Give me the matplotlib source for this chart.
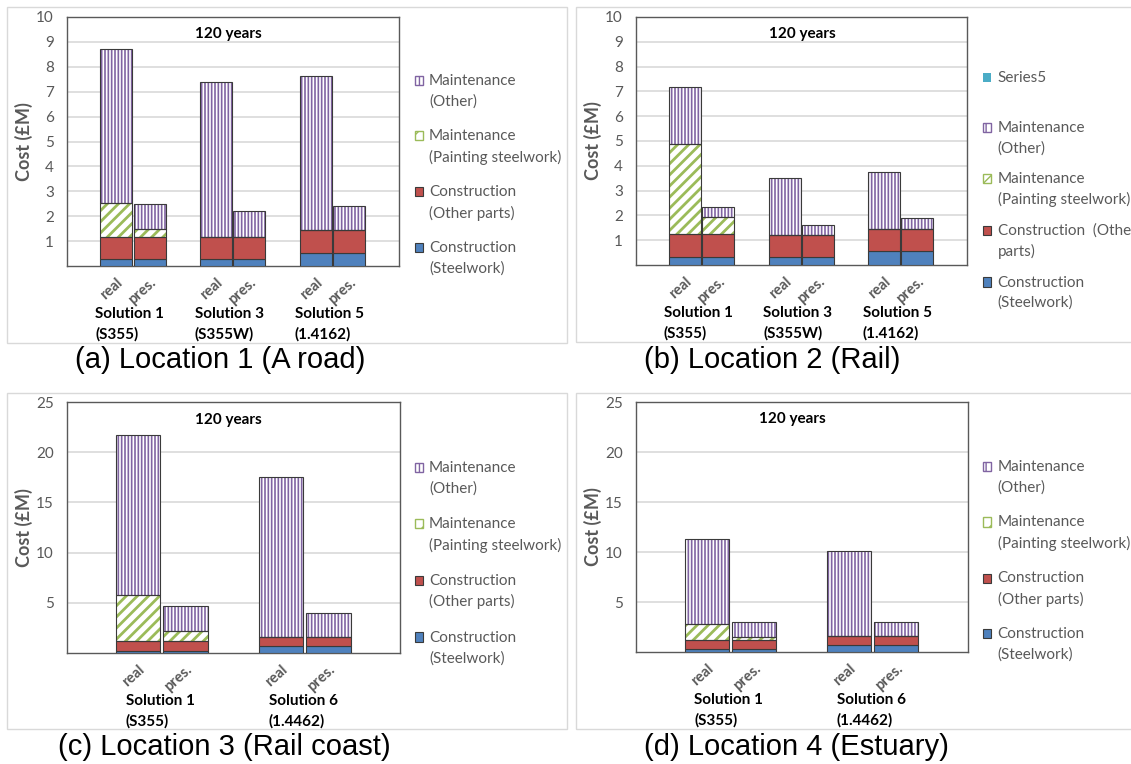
import matplotlib
matplotlib.use('Agg')
import matplotlib.pyplot as plt
from matplotlib.patches import Patch, Rectangle
from matplotlib.legend_handler import HandlerPatch

plt.rcParams['font.family'] = ['Lato', 'DejaVu Sans']

W, H = 1131, 764

bar_labels = ['real', 'pres.']
groups_3 = ['Solution 1\n(S355)', 'Solution 3\n(S355W)', 'Solution 5\n(1.4162)']
groups_2 = ['Solution 1\n(S355)', 'Solution 6\n(1.4462)']
series = ['Construction\n(Steelwork)', 'Construction\n(Other parts)',
          'Maintenance\n(Painting steelwork)', 'Maintenance\n(Other)']
series_b = ['Construction\n(Steelwork)', 'Construction  (Other\nparts)',
            'Maintenance\n(Painting steelwork)', 'Maintenance\n(Other)']
captions = ['(a) Location 1 (A road)', '(b) Location 2 (Rail)',
            '(c) Location 3 (Rail coast)', '(d) Location 4 (Estuary)']

# segment heights (GBP M), bottom to top; bars = real, pres. for each solution
a_steel = [0.30, 0.30, 0.30, 0.30, 0.54, 0.54]
a_other = [0.88, 0.88, 0.88, 0.88, 0.90, 0.90]
a_paint = [1.37, 0.31, 0.0, 0.0, 0.0, 0.0]
a_maint = [6.16, 1.01, 6.22, 1.01, 6.18, 0.98]

b_steel = [0.31, 0.31, 0.31, 0.31, 0.55, 0.55]
b_other = [0.92, 0.92, 0.88, 0.88, 0.90, 0.90]
b_paint = [3.64, 0.69, 0.0, 0.0, 0.0, 0.0]
b_maint = [2.31, 0.40, 2.33, 0.41, 2.31, 0.43]

c_steel = [0.23, 0.23, 0.67, 0.67]
c_other = [1.00, 1.00, 0.93, 0.93]
c_paint = [4.53, 0.97, 0.0, 0.0]
c_maint = [15.94, 2.53, 15.90, 2.43]

d_steel = [0.33, 0.33, 0.67, 0.67]
d_other = [0.84, 0.84, 0.90, 0.90]
d_paint = [1.67, 0.33, 0.0, 0.0]
d_maint = [8.46, 1.47, 8.53, 1.40]

BLUE = '#4F81BD'
RED = '#C0504D'
GREEN = '#9BBB59'
PURPLE = '#8064A2'
CYAN = '#4BACC6'
GRAY = '#595959'
EDGE = '#3a3a3a'


class FirstLineHandler(HandlerPatch):
    # put the legend square next to the first line of a two-line label
    def __init__(self, shift=0.0, **kw):
        super().__init__(**kw)
        self.shift = shift

    def create_artists(self, legend, orig_handle, xdescent, ydescent,
                       width, height, fontsize, trans):
        p = Rectangle((-xdescent, -ydescent + self.shift * fontsize), width, height)
        self.update_prop(p, orig_handle, legend)
        p.set_transform(trans)
        return [p]


def px_axes(fig, l, t, r, b):
    return fig.add_axes([l / W, 1 - b / H, (r - l) / W, (b - t) / H])


def hatched(ax, x, h, bottom, width, color, hatch, hlw):
    with plt.rc_context({'hatch.linewidth': hlw}):
        bars = ax.bar(x, h, width, bottom=bottom, color='white', edgecolor=color,
                      linewidth=0, hatch=hatch, zorder=2)
    ax.bar(x, h, width, bottom=bottom, fill=False, edgecolor=EDGE, linewidth=0.8, zorder=3)
    return bars


def panel(ax, steel, other, paint, maint, groups, ymax, ystep, width, title_x, gshift):
    n = len(groups)
    pos = []
    for g in range(n):
        pos += [3 * g + 1, 3 * g + 2]
    b1 = steel
    b2 = [s + o for s, o in zip(steel, other)]
    b3 = [v + p for v, p in zip(b2, paint)]
    ax.bar(pos, steel, width, color=BLUE, edgecolor=EDGE, linewidth=0.8, zorder=3)
    ax.bar(pos, other, width, bottom=b1, color=RED, edgecolor=EDGE, linewidth=0.8, zorder=3)
    hatched(ax, pos, paint, b2, width, GREEN, '///', 2.0)
    hatched(ax, pos, maint, b3, width, PURPLE, '|||||', 1.2)

    ax.set_xlim(-0.5, 3 * n + 0.5)
    ax.set_ylim(0, ymax)
    ax.set_yticks(list(range(ystep, ymax + 1, ystep)))
    ax.grid(axis='y', color='#d9d9d9', linewidth=1.2, zorder=0)
    ax.set_axisbelow(True)
    ax.tick_params(axis='y', length=0, labelsize=11, labelcolor=GRAY, pad=9)
    ax.set_xticks(pos, bar_labels * n, rotation=42, ha='right', rotation_mode='anchor',
                  fontsize=10.5, color=GRAY, fontweight='bold')
    ax.tick_params(axis='x', length=0, pad=7)
    for s in ax.spines.values():
        s.set_color(GRAY)
        s.set_linewidth(1.0)
    ax.set_ylabel('Cost (£M)', fontsize=13, fontweight='bold', color=GRAY)
    ax.yaxis.set_label_coords(-0.10, 0.5)
    ax.text(title_x, 0.93, '120 years', transform=ax.transAxes, ha='center', va='center',
            fontsize=11, fontweight='bold')
    for g, lab in enumerate(groups):
        ax.text(3 * g + gshift, -0.165, lab, transform=ax.get_xaxis_transform(), ha='center',
                va='top', multialignment='left', fontsize=11, fontweight='bold',
                linespacing=1.5)


def legend(fig, labels, x, y, spacing, extra=False):
    handles = [Patch(facecolor='white', edgecolor=PURPLE, hatch='|||'),
               Patch(facecolor='white', edgecolor=GREEN, hatch='//'),
               Patch(facecolor=RED, edgecolor=EDGE, linewidth=0.8),
               Patch(facecolor=BLUE, edgecolor=EDGE, linewidth=0.8)]
    texts = labels[::-1]
    if extra:
        handles = [Patch(facecolor=CYAN, edgecolor='none')] + handles
        texts = ['Series5\n '] + texts
    leg = fig.legend(handles, texts, loc='upper left', bbox_to_anchor=(x / W, 1 - y / H),
                     frameon=False, fontsize=11, labelcolor=GRAY, handlelength=0.55,
                     handleheight=0.55, handletextpad=0.4, borderpad=0, borderaxespad=0,
                     labelspacing=spacing, handler_map={Patch: FirstLineHandler(0.72)})
    for t in leg.get_texts():
        t.set_linespacing(1.55)
    return leg


fig = plt.figure(figsize=(W / 100, H / 100), dpi=100)

# light frames around the four panels
for (l, t, r, b) in [(7, 7, 567, 343), (576, 7, 1140, 342), (7, 393, 567, 729), (576, 393, 1140, 729)]:
    fig.add_artist(Rectangle((l / W, 1 - b / H), (r - l) / W, (b - t) / H, transform=fig.transFigure,
                             fill=False, edgecolor='#d9d9d9', linewidth=1.0))

ax_a = px_axes(fig, 66.5, 17, 399, 266)
panel(ax_a, a_steel, a_other, a_paint, a_maint, groups_3, 10, 1, 0.96, 0.486, 1.4)
legend(fig, series, 414.5, 74, 1.33)

ax_b = px_axes(fig, 635.5, 17, 967, 265)
panel(ax_b, b_steel, b_other, b_paint, b_maint, groups_3, 10, 1, 0.96, 0.502, 1.4)
legend(fig, series_b, 983, 71, 1.05, extra=True)

ax_c = px_axes(fig, 66.5, 402, 400, 653)
panel(ax_c, c_steel, c_other, c_paint, c_maint, groups_2, 25, 5, 0.93, 0.484, 1.47)
legend(fig, series, 414.5, 461, 1.39)

ax_d = px_axes(fig, 635.5, 402, 967.5, 652)
panel(ax_d, d_steel, d_other, d_paint, d_maint, groups_2, 25, 5, 0.93, 0.473, 1.47)
legend(fig, series, 983, 460, 1.34)

for txt, cx, cy in zip(captions, [220, 772, 224.5, 796], [360, 360, 747, 747]):
    fig.text(cx / W, 1 - cy / H, txt, ha='center', va='center', fontsize=21,
             family='Liberation Sans')

fig.savefig('out.png', dpi=100)
